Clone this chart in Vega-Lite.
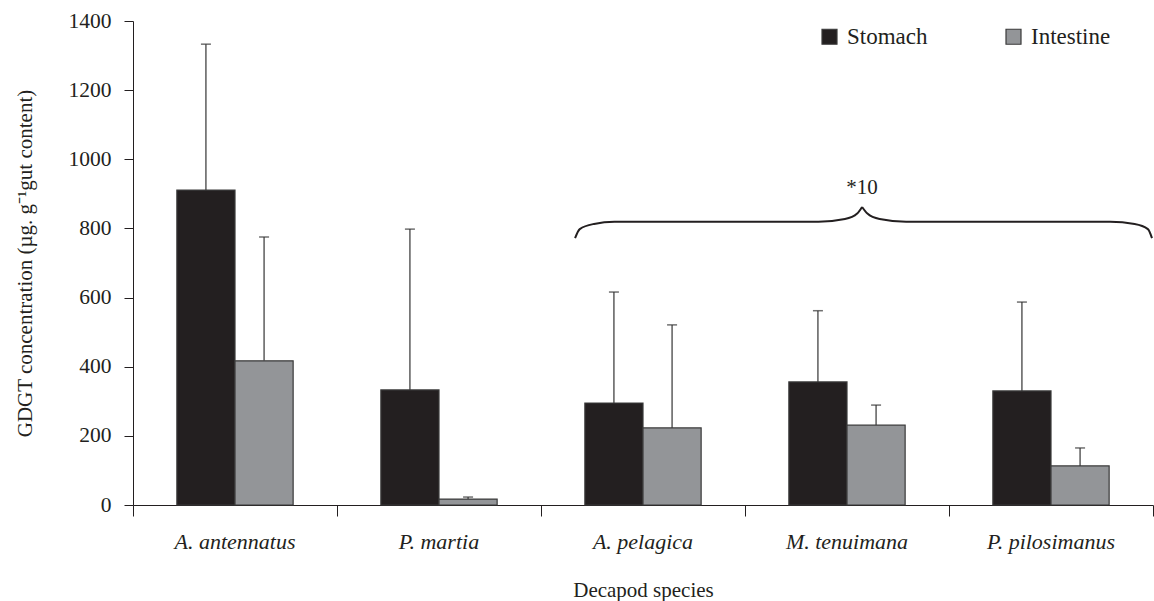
{
  "$schema": "https://vega.github.io/schema/vega-lite/v6.json",
  "width": 1020,
  "height": 484,
  "autosize": "none",
  "padding": {"left": 133, "top": 21, "right": 1, "bottom": 96},
  "background": "white",
  "config": {
    "view": {"stroke": null},
    "font": "Liberation Serif",
    "axis": {"labelFont": "Liberation Serif", "titleFont": "Liberation Serif", "labelColor": "#231f20", "titleColor": "#231f20", "domainColor": "#231f20", "tickColor": "#231f20", "grid": false, "titleFontWeight": "normal"},
    "legend": {"labelFont": "Liberation Serif"}
  },
  "datasets": {
    "bars": [
      {"species": "A. antennatus", "tissue": "Stomach", "value": 911, "upper": 1333},
      {"species": "A. antennatus", "tissue": "Intestine", "value": 417, "upper": 775},
      {"species": "P. martia", "tissue": "Stomach", "value": 333, "upper": 798},
      {"species": "P. martia", "tissue": "Intestine", "value": 17, "upper": 23},
      {"species": "A. pelagica", "tissue": "Stomach", "value": 295, "upper": 616},
      {"species": "A. pelagica", "tissue": "Intestine", "value": 223, "upper": 521},
      {"species": "M. tenuimana", "tissue": "Stomach", "value": 356, "upper": 562},
      {"species": "M. tenuimana", "tissue": "Intestine", "value": 231, "upper": 289},
      {"species": "P. pilosimanus", "tissue": "Stomach", "value": 330, "upper": 587},
      {"species": "P. pilosimanus", "tissue": "Intestine", "value": 113, "upper": 165}
    ],
    "brace": [
      {"side": "left", "pos": 2.167, "val": 772},
      {"side": "left", "pos": 2.19, "val": 798},
      {"side": "left", "pos": 2.26, "val": 813},
      {"side": "left", "pos": 2.36, "val": 819},
      {"side": "left", "pos": 3.36, "val": 819},
      {"side": "left", "pos": 3.49, "val": 827},
      {"side": "left", "pos": 3.55, "val": 843},
      {"side": "left", "pos": 3.574, "val": 862},
      {"side": "right", "pos": 3.574, "val": 862},
      {"side": "right", "pos": 3.60, "val": 843},
      {"side": "right", "pos": 3.66, "val": 827},
      {"side": "right", "pos": 3.79, "val": 819},
      {"side": "right", "pos": 4.79, "val": 819},
      {"side": "right", "pos": 4.91, "val": 813},
      {"side": "right", "pos": 4.975, "val": 798},
      {"side": "right", "pos": 4.995, "val": 772}
    ],
    "note": [{"pos": 3.574, "val": 917, "label": "*10"}]
  },
  "layer": [
    {
      "data": {"name": "bars"},
      "encoding": {
        "x": {
          "field": "species", "type": "nominal", "sort": null,
          "scale": {"paddingInner": 0.43, "paddingOuter": 0.215},
          "axis": {"title": "Decapod species", "orient": "bottom", "labelAngle": 0, "labelFontSize": 22, "labelFontStyle": "italic", "ticks": false, "labelPadding": 26, "titleFontSize": 21, "titlePadding": 27, "domainWidth": 1}
        },
        "xOffset": {"field": "tissue", "type": "nominal", "sort": ["Stomach", "Intestine"], "scale": {"paddingInner": 0, "paddingOuter": 0}}
      },
      "layer": [
        {
          "mark": {"type": "rule", "color": "#333333", "strokeWidth": 1.2},
          "encoding": {
            "y": {"field": "value", "type": "quantitative"},
            "y2": {"field": "upper"}
          }
        },
        {
          "mark": {"type": "tick", "color": "#333333", "thickness": 1.5, "size": 10, "orient": "horizontal"},
          "encoding": {
            "y": {"field": "upper", "type": "quantitative"}
          }
        },
        {
          "mark": {"type": "bar", "stroke": "#3a3a3a", "strokeWidth": 1.2},
          "encoding": {
            "y": {
              "field": "value", "type": "quantitative",
              "scale": {"domain": [0, 1400]},
              "axis": {"title": "GDGT concentration (µg. g⁻¹gut content)", "format": "d", "values": [0, 200, 400, 600, 800, 1000, 1200, 1400], "labelFontSize": 21.5, "tickSize": 9, "labelPadding": 13, "titleFontSize": 21, "titlePadding": 33, "domainWidth": 1, "tickWidth": 1}
            },
            "color": {
              "field": "tissue", "type": "nominal",
              "scale": {"domain": ["Stomach", "Intestine"], "range": ["#231f20", "#939598"]},
              "legend": {"title": null, "orient": "none", "legendX": 685, "legendY": 4, "direction": "horizontal", "symbolType": "square", "symbolSize": 225, "symbolStrokeColor": "#3a3a3a", "symbolStrokeWidth": 1.2, "symbolOpacity": 1, "labelFontSize": 23, "labelColor": "#231f20", "labelOffset": 6, "columnPadding": 74}
            }
          }
        }
      ]
    },
    {
      "data": {"name": "brace"},
      "mark": {"type": "line", "color": "#231f20", "strokeWidth": 2, "interpolate": "monotone"},
      "encoding": {
        "x": {"field": "pos", "type": "quantitative", "scale": {"domain": [0, 5], "nice": false, "zero": false}, "axis": {"orient": "bottom", "values": [0, 1, 2, 3, 4, 5], "labels": false, "domain": false, "title": null, "ticks": true, "tickSize": 11, "tickWidth": 1, "grid": false}},
        "y": {"field": "val", "type": "quantitative"},
        "detail": {"field": "side", "type": "nominal"}
      }
    },
    {
      "data": {"name": "note"},
      "mark": {"type": "text", "fontSize": 21, "font": "Liberation Serif", "color": "#231f20", "baseline": "middle", "align": "center"},
      "encoding": {
        "x": {"field": "pos", "type": "quantitative", "scale": {"domain": [0, 5], "nice": false, "zero": false}, "axis": null},
        "y": {"field": "val", "type": "quantitative"},
        "text": {"field": "label"}
      }
    }
  ],
  "resolve": {"scale": {"x": "independent"}}
}
